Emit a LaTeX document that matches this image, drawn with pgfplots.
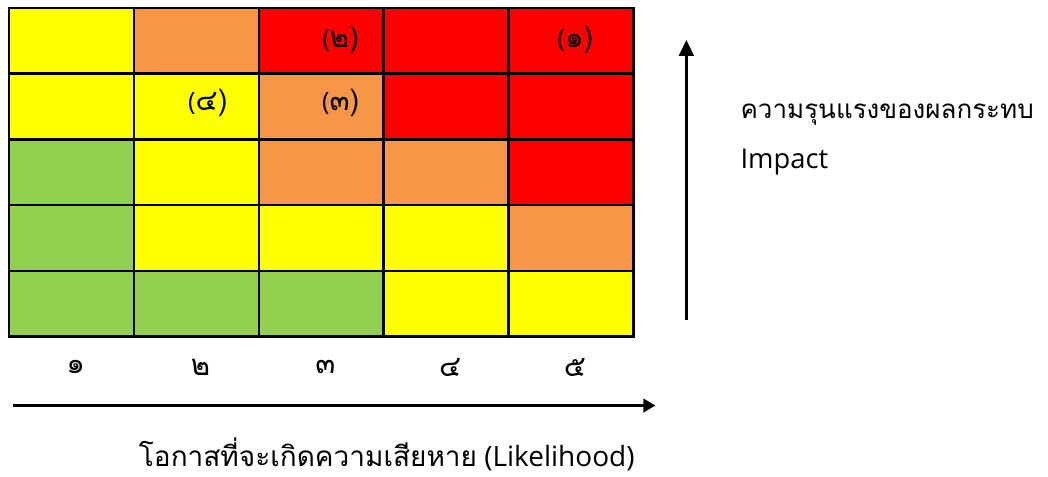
\documentclass[border=0pt]{standalone}
\usepackage{fontspec}
\usepackage{pgfplots}
\pgfplotsset{compat=1.18}
\usetikzlibrary{arrows.meta}
\setmainfont{Open Sans}
\newfontfamily\thai[Script=Thai]{Loma}
\pgfplotstableread{
x y c
1 1 0
2 1 0
3 1 0
4 1 1
5 1 1
1 2 0
2 2 1
3 2 1
4 2 1
5 2 2
1 3 0
2 3 1
3 3 2
4 3 2
5 3 3
1 4 1
2 4 1
3 4 2
4 4 3
5 4 3
1 5 1
2 5 2
3 5 3
4 5 3
5 5 3
}\riskdata
\begin{document}
\begin{tikzpicture}
\begin{axis}[
 scale only axis, width=468.75pt, height=246.75pt,
 xmin=0.5, xmax=5.5, ymin=0.5, ymax=5.5,
 clip=false, axis on top,
 axis line style={line width=2pt},
 xtick={1,2,3,4,5}, xticklabels={๑,๒,๓,๔,๕},
 xticklabel style={font=\thai\fontsize{22}{24}\selectfont, anchor=center, yshift=-23pt, xshift=3pt},
 ytick=\empty,
 major tick length=0pt,
 extra x ticks={1.5,2.5,3.5,4.5}, extra x tick labels={},
 extra x tick style={grid=major, major grid style={black, line width=2pt}},
 extra y ticks={1.5,2.5,3.5,4.5}, extra y tick labels={},
 extra y tick style={grid=major, major grid style={black, line width=2pt}},
 colormap={risk}{rgb255=(146,208,80) rgb255=(255,255,0) rgb255=(247,150,70) rgb255=(255,0,0)},
 colormap access=direct,
]
\addplot[matrix plot*, mesh/cols=5, point meta=explicit] table[meta=c] {\riskdata};
\node[font=\fontsize{19}{21}\selectfont] at (axis cs:3.156,5.01) {(\thai\fontsize{22}{24}\selectfont ๒)};
\node[font=\fontsize{19}{21}\selectfont] at (axis cs:5.036,5.01) {(\thai\fontsize{22}{24}\selectfont ๑)};
\node[font=\fontsize{19}{21}\selectfont] at (axis cs:2.092,4.056) {(\thai\fontsize{22}{24}\selectfont ๔)};
\node[font=\fontsize{19}{21}\selectfont] at (axis cs:3.156,4.056) {(\thai\fontsize{22}{24}\selectfont ๓)};
\draw[line width=2pt, -{Triangle[length=9pt,width=10pt]}] (axis cs:0.532,-0.549) -- (axis cs:5.676,-0.549);
\draw[line width=2pt, -{Triangle[length=12pt,width=11pt]}] (axis cs:5.924,0.758) -- (axis cs:5.924,5.014);
\node[anchor=west, inner sep=0pt, font=\thai\fontsize{19.5}{21}\selectfont] at (axis cs:6.356,3.874) {ความรุนแรงของผลกระทบ};
\node[anchor=west, inner sep=0pt, font=\fontsize{20.5}{22}\selectfont] at (axis cs:6.356,3.16) {Impact};
\node[inner sep=0pt, font=\fontsize{21}{23}\selectfont] at (axis cs:3.524,-1.29) {{\thai\fontsize{21}{23}\selectfont โอกาสที่จะเกิดความเสียหาย} (Likelihood)};
\path (axis cs:0.436,-1.628) rectangle (axis cs:8.82,5.621);
\end{axis}
\end{tikzpicture}
\end{document}
